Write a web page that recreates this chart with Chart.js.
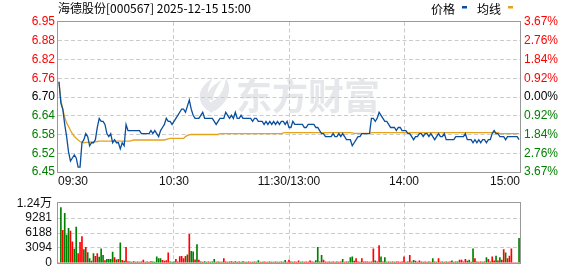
<!DOCTYPE html>
<html><head><meta charset="utf-8">
<script src="https://cdn.jsdelivr.net/npm/chart.js@4/dist/chart.umd.min.js"></script>
<style>
html,body{margin:0;padding:0;background:#fff;width:578px;height:276px;overflow:hidden;}
#c1{position:absolute;left:0;top:0;}
#c2{position:absolute;left:0;top:190px;}
</style></head><body>
<canvas id="c1" width="578" height="190"></canvas>
<canvas id="c2" width="578" height="86"></canvas>
<script>
// ---------- data ----------
const title = '海德股份[000567] 2025-12-15 15:00';
const seriesNames = ['价格', '均线'];
const prevClose = 6.70;
const priceMin = 6.454, priceMax = 6.946;
const volMax = 12375;
const timeLabels = ['09:30', '10:30', '11:30/13:00', '14:00', '15:00'];
const timeLabelIdx = [0, 60, 120, 180, 240];
// bottom -> top
const priceLabels = ['6.45','6.52','6.58','6.64','6.70','6.76','6.82','6.88','6.95'];
const pctLabels = ['3.67%','2.76%','1.84%','0.92%','0.00%','0.92%','1.84%','2.76%','3.67%'];
const labelTone = ['g','g','g','g','n','r','r','r','r'];
const volLabels = ['0','3094','6188','9281','1.24万'];

const price = [
6.75,6.68,6.66,6.61,6.57,6.52,6.49,6.50,6.51,6.50,
6.47,6.47,6.55,6.56,6.58,6.57,6.54,6.55,6.55,6.56,
6.60,6.63,6.62,6.62,6.61,6.58,6.57,6.58,6.55,6.56,
6.55,6.55,6.53,6.55,6.54,6.61,6.59,6.59,6.59,6.59,
6.59,6.59,6.59,6.58,6.58,6.58,6.58,6.58,6.59,6.58,
6.59,6.58,6.57,6.59,6.60,6.61,6.63,6.62,6.62,6.61,
6.62,6.63,6.64,6.65,6.66,6.66,6.65,6.67,6.69,6.66,
6.64,6.63,6.63,6.63,6.64,6.65,6.63,6.63,6.63,6.63,
6.63,6.62,6.61,6.62,6.63,6.63,6.63,6.65,6.64,6.63,
6.64,6.63,6.65,6.63,6.63,6.64,6.63,6.63,6.63,6.63,
6.63,6.62,6.63,6.63,6.62,6.62,6.62,6.61,6.62,6.61,
6.62,6.61,6.62,6.61,6.62,6.61,6.62,6.62,6.61,6.62,
6.60,6.60,6.62,6.61,6.61,6.61,6.61,6.61,6.60,6.60,
6.61,6.61,6.61,6.61,6.60,6.60,6.59,6.58,6.58,6.57,
6.57,6.57,6.57,6.58,6.57,6.57,6.58,6.57,6.58,6.57,
6.56,6.56,6.56,6.54,6.55,6.56,6.57,6.57,6.58,6.58,
6.58,6.58,6.58,6.63,6.63,6.62,6.63,6.65,6.64,6.63,
6.62,6.62,6.61,6.60,6.60,6.60,6.59,6.60,6.60,6.59,
6.59,6.59,6.58,6.58,6.57,6.56,6.57,6.57,6.58,6.58,
6.57,6.58,6.58,6.57,6.58,6.57,6.56,6.57,6.58,6.57,
6.57,6.58,6.56,6.56,6.56,6.56,6.56,6.57,6.57,6.57,
6.57,6.57,6.58,6.56,6.56,6.56,6.55,6.56,6.55,6.56,
6.55,6.56,6.56,6.55,6.56,6.56,6.58,6.59,6.58,6.58,
6.57,6.57,6.57,6.56,6.57,6.57,6.57,6.57,6.57,6.57,
6.56];

const avgLine = [
6.750,6.690,6.660,6.633,6.615,6.603,6.590,6.580,6.571,6.565,
6.559,6.554,6.551,6.550,6.551,6.551,6.551,6.553,6.553,6.553,
6.554,6.555,6.555,6.555,6.555,6.555,6.555,6.555,6.555,6.555,
6.555,6.555,6.555,6.555,6.555,6.555,6.555,6.555,6.557,6.559,
6.559,6.559,6.559,6.559,6.559,6.559,6.559,6.559,6.559,6.559,
6.559,6.559,6.559,6.559,6.559,6.559,6.561,6.563,6.564,6.564,
6.564,6.564,6.564,6.564,6.564,6.564,6.570,6.574,6.576,6.577,
6.577,6.577,6.577,6.577,6.577,6.577,6.577,6.577,6.577,6.577,
6.577,6.577,6.577,6.577,6.580,6.580,6.580,6.580,6.580,6.580,
6.580,6.580,6.580,6.580,6.580,6.580,6.580,6.580,6.580,6.580,
6.580,6.580,6.580,6.580,6.580,6.580,6.580,6.580,6.580,6.580,
6.580,6.580,6.580,6.580,6.580,6.580,6.580,6.582,6.583,6.583,
6.583,6.583,6.583,6.583,6.583,6.583,6.583,6.583,6.583,6.583,
6.583,6.583,6.583,6.583,6.583,6.583,6.583,6.583,6.583,6.583,
6.583,6.583,6.583,6.583,6.583,6.583,6.583,6.583,6.583,6.583,
6.583,6.583,6.583,6.582,6.581,6.581,6.581,6.581,6.581,6.581,
6.581,6.581,6.581,6.583,6.583,6.583,6.583,6.583,6.583,6.583,
6.583,6.583,6.583,6.583,6.583,6.583,6.583,6.583,6.583,6.583,
6.583,6.583,6.583,6.583,6.583,6.583,6.583,6.583,6.583,6.583,
6.583,6.583,6.583,6.583,6.583,6.583,6.583,6.583,6.583,6.583,
6.583,6.583,6.583,6.583,6.583,6.583,6.583,6.583,6.583,6.583,
6.583,6.583,6.583,6.583,6.583,6.583,6.583,6.583,6.583,6.583,
6.583,6.583,6.583,6.583,6.583,6.583,6.583,6.583,6.583,6.583,
6.580,6.580,6.580,6.580,6.580,6.580,6.580,6.580,6.580,6.580,
6.580];

const volume = [
0,11480,6745,10256,5741,7135,6577,4348,2843,7413,
1895,4236,5463,2731,3233,2118,892,334,1895,1338,
1895,1170,2898,1561,446,725,725,725,2230,1059,
613,725,4125,502,334,3233,279,200,150,250,
150,200,150,200,557,150,200,150,250,200,
150,1226,892,892,502,334,446,2062,223,150,
223,725,200,1282,1338,892,1338,1672,5908,2397,
2285,613,3790,557,223,150,279,150,200,150,
200,725,150,200,150,150,892,200,150,200,
279,150,279,150,200,150,279,150,150,200,
150,150,200,150,446,150,150,200,150,150,
200,150,150,200,150,150,200,150,502,150,
557,223,150,223,150,390,150,223,150,223,
150,390,200,150,446,3233,223,1561,557,223,
150,223,150,223,150,200,150,223,725,150,
223,200,1059,1226,334,892,223,150,892,223,
200,223,150,223,2898,390,200,3567,1226,223,
1059,150,223,150,200,150,223,200,150,223,
1226,150,223,1561,200,502,334,150,390,223,
150,200,150,200,150,892,223,150,892,150,
223,150,200,150,223,390,150,200,223,557,
557,223,725,334,557,150,2898,892,223,150,
223,150,223,1059,725,223,1226,390,1394,390,
1059,557,2731,2062,892,1394,2898,0,0,0,
5072];

// r = up (red), g = down (green)
const volDir = [
'rgrgggrrgg','rrrgrggrgr','rgggrggggr','grgrgrrgrr','grgrrrgrrg',
'ggggrrrrgg','grrrrrrgrg','grgrgrggrg','ggrgrgrrgr','rgrgrggrgr',
'rgrggrgrrg','rgrgrgrggr','rrgrrrggrr','rrrgggrgrr','rrgrrgrrgr',
'rgggrrrgrr','rrrrrgrrgr','ggrgrgrrrr','rgrrggrrrr','grrgrgrgrr',
'grgrrgrggr','rrrrgrgrgr','rgrgrgrrgr','grrgrrrrrr','g'].join('').split('');

// ---------- styling ----------
const RED = '#ff0000', GREEN = '#008000', BLACK = '#000000';
const GRID = '#cbcbcb';
const DASH = [4, 2.5];
const tickFont = {family: '"Liberation Sans", Arial, "Noto Sans CJK SC", sans-serif', size: 12};
const toneColor = t => t === 'r' ? RED : (t === 'g' ? GREEN : BLACK);
const PRICE_COLOR = '#0a4f9f', AVG_COLOR = '#e3a31c';

function evenTicks(min, max, n) {
  const out = [];
  for (let k = 0; k < n; k++) out.push({value: min + k * (max - min) / (n - 1)});
  return out;
}

const deco1 = {
  id: 'deco1',
  beforeDraw(chart) {
    const c = chart.ctx;
    c.save();
    c.fillStyle = '#e6e7eb';
    // logo swoosh
    c.beginPath();
    c.moveTo(212, 113);
    c.bezierCurveTo(195, 104, 196, 88, 213, 78);
    c.bezierCurveTo(205, 91, 206, 101, 216, 108);
    c.closePath(); c.fill();
    c.beginPath();
    c.moveTo(215, 111);
    c.bezierCurveTo(230, 101, 232, 88, 226, 78);
    c.bezierCurveTo(224, 92, 218, 99, 208, 104);
    c.closePath(); c.fill();
    c.beginPath();
    c.moveTo(206, 98);
    c.bezierCurveTo(208, 90, 214, 84, 222, 80);
    c.bezierCurveTo(216, 88, 213, 95, 213, 101);
    c.closePath(); c.fill();
    c.font = 'bold 36px "Noto Sans CJK SC"';
    c.textBaseline = 'middle';
    c.textAlign = 'left';
    c.fillText('东方财富', 236, 96);
    c.restore();
  },
  afterDraw(chart) {
    const c = chart.ctx, a = chart.chartArea;
    c.save();
    c.strokeStyle = '#999999';
    c.lineWidth = 1;
    c.strokeRect(Math.round(a.left) - 0.5, Math.round(a.top) - 0.5, Math.round(a.right - a.left) + 1, Math.round(a.bottom - a.top) + 1);
    // title
    c.fillStyle = BLACK;
    c.textBaseline = 'middle';
    c.textAlign = 'left';
    c.font = '12px "Noto Sans CJK SC"';
    c.fillText(title, 58, 8.5);
    // legend
    c.fillText(seriesNames[0], 431, 9);
    c.fillStyle = PRICE_COLOR;
    c.fillRect(462, 6, 5, 2.5);
    c.fillStyle = BLACK;
    c.fillText(seriesNames[1], 477, 9);
    c.fillStyle = AVG_COLOR;
    c.fillRect(508, 6, 5, 2.5);
    // x labels
    const xs = chart.scales.x;
    c.fillStyle = '#111';
    c.font = '12px "Liberation Sans", Arial, sans-serif';
    timeLabels.forEach((t, k) => {
      const px = xs.getPixelForValue(timeLabelIdx[k]);
      if (k === 0) { c.textAlign = 'left'; c.fillText(t, a.left, 182); }
      else if (k === timeLabels.length - 1) { c.textAlign = 'right'; c.fillText(t, a.right, 182); }
      else { c.textAlign = 'center'; c.fillText(t, px, 182); }
    });
    c.restore();
  }
};

const deco2 = {
  id: 'deco2',
  afterDraw(chart) {
    const c = chart.ctx, a = chart.chartArea;
    c.save();
    c.strokeStyle = '#999999';
    c.lineWidth = 1;
    c.strokeRect(Math.round(a.left) - 0.5, Math.round(a.top) - 0.5, Math.round(a.right - a.left) + 1, Math.round(a.bottom - a.top) + 1);
    c.restore();
  }
};

const xScale = (h) => ({
  type: 'linear', min: -0.5, max: 240.5, offset: false,
  afterBuildTicks: s => { s.ticks = [{value: 60}, {value: 120}, {value: 180}]; },
  ticks: {display: false, autoSkip: false},
  grid: {color: GRID, drawTicks: false, lineWidth: 1, offset: false},
  border: {display: false, dash: DASH},
  afterFit: s => { s.height = h; }
});

new Chart(document.getElementById('c1'), {
  type: 'line',
  data: {
    datasets: [
      {label: seriesNames[0], data: price.map((v, i) => ({x: i, y: v})), borderColor: PRICE_COLOR, borderWidth: 1.3, pointRadius: 0, tension: 0, fill: false},
      {label: seriesNames[1], data: avgLine.map((v, i) => ({x: i, y: v})), borderColor: AVG_COLOR, borderWidth: 1.3, pointRadius: 0, tension: 0, fill: false}
    ]
  },
  options: {
    responsive: false, animation: false, devicePixelRatio: 1,
    layout: {padding: {top: 22, left: 0, right: 0, bottom: 0}},
    plugins: {legend: {display: false}, tooltip: {enabled: false}, title: {display: false}},
    scales: {
      x: xScale(18),
      y: {
        position: 'left', min: priceMin, max: priceMax,
        afterBuildTicks: s => { s.ticks = evenTicks(priceMin, priceMax, priceLabels.length); },
        ticks: {callback: (v, i) => priceLabels[i], color: ctx => toneColor(labelTone[ctx.index]), font: tickFont, padding: 3, autoSkip: false},
        grid: {color: ctx => (ctx.index === 0 || ctx.index === priceLabels.length - 1) ? 'rgba(0,0,0,0)' : GRID, drawTicks: false},
        border: {display: false, dash: DASH},
        afterFit: s => { s.width = 58; }
      },
      y2: {
        position: 'right', min: priceMin, max: priceMax,
        afterBuildTicks: s => { s.ticks = evenTicks(priceMin, priceMax, pctLabels.length); },
        ticks: {callback: (v, i) => pctLabels[i], color: ctx => toneColor(labelTone[ctx.index]), font: tickFont, padding: 4, autoSkip: false},
        grid: {display: false, drawTicks: false},
        border: {display: false},
        afterFit: s => { s.width = 58; }
      }
    }
  },
  plugins: [deco1]
});

new Chart(document.getElementById('c2'), {
  type: 'bar',
  data: {
    datasets: [{
      data: volume.map((v, i) => ({x: i, y: v})),
      backgroundColor: volDir.map(d => d === 'r' ? RED : GREEN),
      borderWidth: 0, barThickness: 1
    }]
  },
  options: {
    responsive: false, animation: false, devicePixelRatio: 1,
    layout: {padding: {top: 6, left: 0, right: 58, bottom: 0}},
    plugins: {legend: {display: false}, tooltip: {enabled: false}},
    scales: {
      x: xScale(6),
      y: {
        min: 0, max: volMax,
        afterBuildTicks: s => { s.ticks = evenTicks(0, volMax, volLabels.length); },
        ticks: {callback: (v, i) => volLabels[i], color: '#111', font: tickFont, padding: 6, autoSkip: false},
        grid: {color: ctx => (ctx.index === 0 || ctx.index === volLabels.length - 1) ? 'rgba(0,0,0,0)' : GRID, drawTicks: false},
        border: {display: false, dash: DASH},
        afterFit: s => { s.width = 58; }
      }
    }
  },
  plugins: [deco2]
});
</script>
</body></html>
